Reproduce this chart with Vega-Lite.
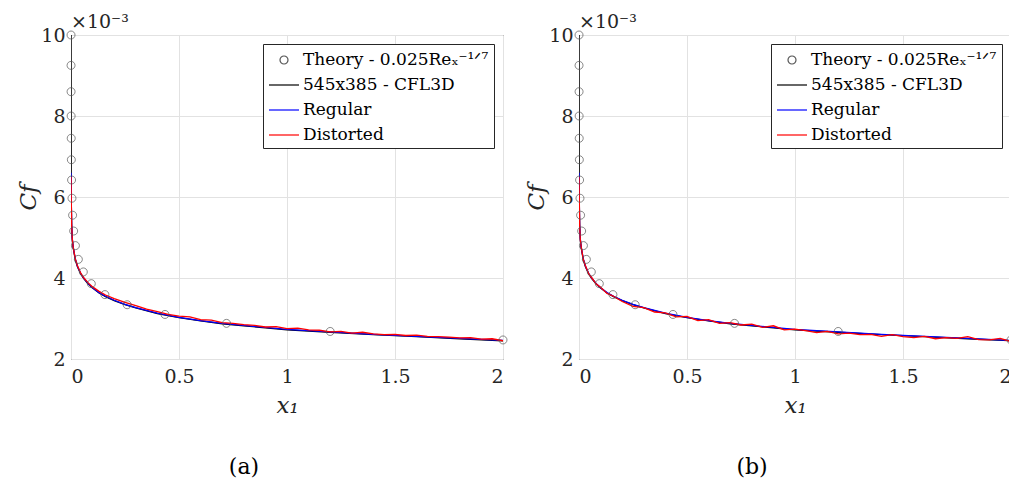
{
  "$schema": "https://vega.github.io/schema/vega-lite/v6.json",
  "background": "white",
  "padding": {"left": 17, "top": 12, "right": 0, "bottom": 0},
  "datasets": {
    "th": [
      {"x": 0.000127, "y": 10.0}, {"x": 0.00021, "y": 9.25}, {"x": 0.00035, "y": 8.6}, {"x": 0.00058, "y": 8.0},
      {"x": 0.00097, "y": 7.45}, {"x": 0.0016, "y": 6.92}, {"x": 0.0027, "y": 6.42}, {"x": 0.0045, "y": 5.97},
      {"x": 0.0074, "y": 5.55}, {"x": 0.0123, "y": 5.16}, {"x": 0.0205, "y": 4.8}, {"x": 0.034, "y": 4.46},
      {"x": 0.057, "y": 4.15}, {"x": 0.094, "y": 3.86}, {"x": 0.157, "y": 3.59}, {"x": 0.26, "y": 3.34},
      {"x": 0.435, "y": 3.1}, {"x": 0.72, "y": 2.88}, {"x": 1.2, "y": 2.68}, {"x": 2.0, "y": 2.47}
    ],
    "cv": [
      {"p": "ab", "s": "C", "x": 0, "y": 12}, {"p": "ab", "s": "C", "x": 0.001, "y": 5.98}, {"p": "ab", "s": "C", "x": 0.003, "y": 5.3},
      {"p": "ab", "s": "C", "x": 0.006, "y": 4.95}, {"p": "ab", "s": "C", "x": 0.01, "y": 4.75}, {"p": "ab", "s": "C", "x": 0.02, "y": 4.45},
      {"p": "ab", "s": "C", "x": 0.03, "y": 4.28}, {"p": "ab", "s": "C", "x": 0.045, "y": 4.1}, {"p": "ab", "s": "C", "x": 0.06, "y": 3.98},
      {"p": "ab", "s": "C", "x": 0.08, "y": 3.85}, {"p": "ab", "s": "C", "x": 0.1, "y": 3.75}, {"p": "ab", "s": "C", "x": 0.13, "y": 3.63},
      {"p": "ab", "s": "C", "x": 0.16, "y": 3.54}, {"p": "ab", "s": "C", "x": 0.2, "y": 3.44}, {"p": "ab", "s": "C", "x": 0.25, "y": 3.34},
      {"p": "ab", "s": "C", "x": 0.3, "y": 3.26}, {"p": "ab", "s": "C", "x": 0.4, "y": 3.12}, {"p": "ab", "s": "C", "x": 0.5, "y": 3.02},
      {"p": "ab", "s": "C", "x": 0.6, "y": 2.94}, {"p": "ab", "s": "C", "x": 0.7, "y": 2.87}, {"p": "ab", "s": "C", "x": 0.8, "y": 2.82},
      {"p": "ab", "s": "C", "x": 0.9, "y": 2.77}, {"p": "ab", "s": "C", "x": 1.0, "y": 2.72}, {"p": "ab", "s": "C", "x": 1.2, "y": 2.66},
      {"p": "ab", "s": "C", "x": 1.4, "y": 2.6}, {"p": "ab", "s": "C", "x": 1.6, "y": 2.55}, {"p": "ab", "s": "C", "x": 1.8, "y": 2.5},
      {"p": "ab", "s": "C", "x": 2.0, "y": 2.45},

      {"p": "ab", "s": "R", "x": 0, "y": 6.6}, {"p": "ab", "s": "R", "x": 0.001, "y": 6.0}, {"p": "ab", "s": "R", "x": 0.003, "y": 5.32},
      {"p": "ab", "s": "R", "x": 0.006, "y": 4.97}, {"p": "ab", "s": "R", "x": 0.01, "y": 4.77}, {"p": "ab", "s": "R", "x": 0.02, "y": 4.47},
      {"p": "ab", "s": "R", "x": 0.03, "y": 4.29}, {"p": "ab", "s": "R", "x": 0.045, "y": 4.11}, {"p": "ab", "s": "R", "x": 0.06, "y": 3.99},
      {"p": "ab", "s": "R", "x": 0.08, "y": 3.86}, {"p": "ab", "s": "R", "x": 0.1, "y": 3.76}, {"p": "ab", "s": "R", "x": 0.13, "y": 3.64},
      {"p": "ab", "s": "R", "x": 0.16, "y": 3.55}, {"p": "ab", "s": "R", "x": 0.2, "y": 3.45}, {"p": "ab", "s": "R", "x": 0.25, "y": 3.35},
      {"p": "ab", "s": "R", "x": 0.3, "y": 3.27}, {"p": "ab", "s": "R", "x": 0.4, "y": 3.13}, {"p": "ab", "s": "R", "x": 0.5, "y": 3.03},
      {"p": "ab", "s": "R", "x": 0.6, "y": 2.95}, {"p": "ab", "s": "R", "x": 0.7, "y": 2.88}, {"p": "ab", "s": "R", "x": 0.8, "y": 2.83},
      {"p": "ab", "s": "R", "x": 0.9, "y": 2.78}, {"p": "ab", "s": "R", "x": 1.0, "y": 2.73}, {"p": "ab", "s": "R", "x": 1.2, "y": 2.67},
      {"p": "ab", "s": "R", "x": 1.4, "y": 2.61}, {"p": "ab", "s": "R", "x": 1.6, "y": 2.56}, {"p": "ab", "s": "R", "x": 1.8, "y": 2.51},
      {"p": "ab", "s": "R", "x": 2.0, "y": 2.46},

      {"p": "a", "s": "D", "x": 0, "y": 6.5}, {"p": "a", "s": "D", "x": 0.001, "y": 6.0}, {"p": "a", "s": "D", "x": 0.003, "y": 5.3},
      {"p": "a", "s": "D", "x": 0.006, "y": 4.97}, {"p": "a", "s": "D", "x": 0.01, "y": 4.77}, {"p": "a", "s": "D", "x": 0.02, "y": 4.47},
      {"p": "a", "s": "D", "x": 0.03, "y": 4.3}, {"p": "a", "s": "D", "x": 0.045, "y": 4.12}, {"p": "a", "s": "D", "x": 0.06, "y": 4.0},
      {"p": "a", "s": "D", "x": 0.08, "y": 3.88}, {"p": "a", "s": "D", "x": 0.1, "y": 3.78}, {"p": "a", "s": "D", "x": 0.13, "y": 3.67},
      {"p": "a", "s": "D", "x": 0.16, "y": 3.58}, {"p": "a", "s": "D", "x": 0.2, "y": 3.49}, {"p": "a", "s": "D", "x": 0.25, "y": 3.4},
      {"p": "a", "s": "D", "x": 0.3, "y": 3.32}, {"p": "a", "s": "D", "x": 0.35, "y": 3.23}, {"p": "a", "s": "D", "x": 0.4, "y": 3.17},
      {"p": "a", "s": "D", "x": 0.45, "y": 3.1}, {"p": "a", "s": "D", "x": 0.5, "y": 3.06}, {"p": "a", "s": "D", "x": 0.55, "y": 3.04},
      {"p": "a", "s": "D", "x": 0.6, "y": 2.97}, {"p": "a", "s": "D", "x": 0.65, "y": 2.96}, {"p": "a", "s": "D", "x": 0.7, "y": 2.9},
      {"p": "a", "s": "D", "x": 0.75, "y": 2.88}, {"p": "a", "s": "D", "x": 0.8, "y": 2.85}, {"p": "a", "s": "D", "x": 0.85, "y": 2.83},
      {"p": "a", "s": "D", "x": 0.9, "y": 2.79}, {"p": "a", "s": "D", "x": 0.95, "y": 2.8}, {"p": "a", "s": "D", "x": 1.0, "y": 2.75},
      {"p": "a", "s": "D", "x": 1.05, "y": 2.76}, {"p": "a", "s": "D", "x": 1.1, "y": 2.72}, {"p": "a", "s": "D", "x": 1.15, "y": 2.71},
      {"p": "a", "s": "D", "x": 1.2, "y": 2.67}, {"p": "a", "s": "D", "x": 1.25, "y": 2.68}, {"p": "a", "s": "D", "x": 1.3, "y": 2.64},
      {"p": "a", "s": "D", "x": 1.35, "y": 2.66}, {"p": "a", "s": "D", "x": 1.4, "y": 2.62}, {"p": "a", "s": "D", "x": 1.45, "y": 2.6},
      {"p": "a", "s": "D", "x": 1.5, "y": 2.61}, {"p": "a", "s": "D", "x": 1.55, "y": 2.58}, {"p": "a", "s": "D", "x": 1.6, "y": 2.59},
      {"p": "a", "s": "D", "x": 1.65, "y": 2.56}, {"p": "a", "s": "D", "x": 1.7, "y": 2.55}, {"p": "a", "s": "D", "x": 1.75, "y": 2.54},
      {"p": "a", "s": "D", "x": 1.8, "y": 2.52}, {"p": "a", "s": "D", "x": 1.85, "y": 2.53}, {"p": "a", "s": "D", "x": 1.9, "y": 2.49},
      {"p": "a", "s": "D", "x": 1.95, "y": 2.5}, {"p": "a", "s": "D", "x": 2.0, "y": 2.45},

      {"p": "b", "s": "D", "x": 0, "y": 6.5}, {"p": "b", "s": "D", "x": 0.001, "y": 6.1}, {"p": "b", "s": "D", "x": 0.003, "y": 5.3},
      {"p": "b", "s": "D", "x": 0.006, "y": 4.95}, {"p": "b", "s": "D", "x": 0.01, "y": 4.78}, {"p": "b", "s": "D", "x": 0.02, "y": 4.45},
      {"p": "b", "s": "D", "x": 0.03, "y": 4.3}, {"p": "b", "s": "D", "x": 0.045, "y": 4.1}, {"p": "b", "s": "D", "x": 0.06, "y": 4.0},
      {"p": "b", "s": "D", "x": 0.08, "y": 3.85}, {"p": "b", "s": "D", "x": 0.1, "y": 3.77}, {"p": "b", "s": "D", "x": 0.13, "y": 3.62},
      {"p": "b", "s": "D", "x": 0.16, "y": 3.55}, {"p": "b", "s": "D", "x": 0.2, "y": 3.42}, {"p": "b", "s": "D", "x": 0.25, "y": 3.3},
      {"p": "b", "s": "D", "x": 0.3, "y": 3.27}, {"p": "b", "s": "D", "x": 0.35, "y": 3.16}, {"p": "b", "s": "D", "x": 0.4, "y": 3.14},
      {"p": "b", "s": "D", "x": 0.45, "y": 3.04}, {"p": "b", "s": "D", "x": 0.5, "y": 3.05}, {"p": "b", "s": "D", "x": 0.55, "y": 2.95},
      {"p": "b", "s": "D", "x": 0.6, "y": 2.97}, {"p": "b", "s": "D", "x": 0.65, "y": 2.88}, {"p": "b", "s": "D", "x": 0.7, "y": 2.9},
      {"p": "b", "s": "D", "x": 0.75, "y": 2.84}, {"p": "b", "s": "D", "x": 0.8, "y": 2.86}, {"p": "b", "s": "D", "x": 0.85, "y": 2.78},
      {"p": "b", "s": "D", "x": 0.9, "y": 2.82}, {"p": "b", "s": "D", "x": 0.95, "y": 2.72}, {"p": "b", "s": "D", "x": 1.0, "y": 2.74},
      {"p": "b", "s": "D", "x": 1.05, "y": 2.7}, {"p": "b", "s": "D", "x": 1.1, "y": 2.65}, {"p": "b", "s": "D", "x": 1.15, "y": 2.68},
      {"p": "b", "s": "D", "x": 1.2, "y": 2.62}, {"p": "b", "s": "D", "x": 1.25, "y": 2.64}, {"p": "b", "s": "D", "x": 1.3, "y": 2.6},
      {"p": "b", "s": "D", "x": 1.35, "y": 2.61}, {"p": "b", "s": "D", "x": 1.4, "y": 2.56}, {"p": "b", "s": "D", "x": 1.45, "y": 2.6},
      {"p": "b", "s": "D", "x": 1.5, "y": 2.55}, {"p": "b", "s": "D", "x": 1.55, "y": 2.53}, {"p": "b", "s": "D", "x": 1.6, "y": 2.56},
      {"p": "b", "s": "D", "x": 1.65, "y": 2.5}, {"p": "b", "s": "D", "x": 1.7, "y": 2.53}, {"p": "b", "s": "D", "x": 1.75, "y": 2.51},
      {"p": "b", "s": "D", "x": 1.8, "y": 2.55}, {"p": "b", "s": "D", "x": 1.85, "y": 2.48}, {"p": "b", "s": "D", "x": 1.9, "y": 2.47},
      {"p": "b", "s": "D", "x": 1.95, "y": 2.51}, {"p": "b", "s": "D", "x": 2.0, "y": 2.43}
    ]
  },
  "hconcat": [
    {
      "width": 432, "height": 324,
      "title": {"text": "(a)", "orient": "bottom", "anchor": "middle", "frame": "group", "dx": -43, "offset": 40, "fontSize": 22, "fontWeight": "normal", "font": "DejaVu Serif", "color": "#000000"},
      "layer": [
        {
          "data": {"name": "cv"},
          "transform": [{"filter": "indexof(datum.p, 'a') >= 0"}],
          "mark": {"type": "line", "clip": true, "strokeWidth": 1.3},
          "encoding": {
            "x": {"field": "x", "type": "quantitative", "scale": {"domain": [0, 2], "nice": false}, "axis": {"values": [0, 0.5, 1, 1.5, 2], "format": "~g", "title": "x₁", "labelPadding": 8, "titlePadding": 8, "labelFont": "DejaVu Serif", "labelFontSize": 19, "titleFont": "DejaVu Serif", "titleFontSize": 23, "titleFontStyle": "italic", "titleFontWeight": "normal"}},
            "y": {"field": "y", "type": "quantitative", "scale": {"domain": [2, 10], "nice": false}, "axis": {"values": [2, 4, 6, 8, 10], "format": "d", "title": "Cf", "labelPadding": 6, "titlePadding": 0, "labelFont": "DejaVu Serif", "labelFontSize": 19, "titleFont": "DejaVu Serif", "titleFontSize": 23, "titleFontStyle": "italic", "titleFontWeight": "normal"}},
            "color": {"field": "s", "type": "nominal", "scale": {"domain": ["T", "C", "R", "D"], "range": ["#555555", "#000000", "#0000ff", "#ff0000"]}, "legend": {"title": null, "labelExpr": "datum.label == 'T' ? 'Theory - 0.025Reₓ⁻¹ᐟ⁷' : datum.label == 'C' ? '545x385 - CFL3D' : datum.label == 'R' ? 'Regular' : 'Distorted'"}},
            "order": {"field": "s", "sort": "ascending"}
          }
        },
        {
          "data": {"name": "th"},
          "transform": [{"calculate": "'T'", "as": "s"}],
          "mark": {"type": "point", "filled": false, "size": 400, "strokeWidth": 0.7, "opacity": 1},
          "encoding": {
            "x": {"field": "x", "type": "quantitative"},
            "y": {"field": "y", "type": "quantitative"},
            "color": {"field": "s", "type": "nominal", "legend": {"title": null, "labelExpr": "datum.label == 'T' ? 'Theory - 0.025Reₓ⁻¹ᐟ⁷' : datum.label == 'C' ? '545x385 - CFL3D' : datum.label == 'R' ? 'Regular' : 'Distorted'"}},
            "shape": {"field": "s", "type": "nominal", "scale": {"domain": ["T", "C", "R", "D"], "range": ["M -0.4 0 A 0.4 0.4 0 1 0 0.4 0 A 0.4 0.4 0 1 0 -0.4 0 Z", "M -1.5 0 L 1.5 0", "M -1.5 0 L 1.5 0", "M -1.5 0 L 1.5 0"]}, "legend": {"title": null, "labelExpr": "datum.label == 'T' ? 'Theory - 0.025Reₓ⁻¹ᐟ⁷' : datum.label == 'C' ? '545x385 - CFL3D' : datum.label == 'R' ? 'Regular' : 'Distorted'"}}
          }
        },
        {
          "data": {"values": [{}]},
          "mark": {"type": "text", "align": "left", "baseline": "bottom", "dx": 0, "dy": -3, "fontSize": 19, "font": "DejaVu Serif", "color": "#262626"},
          "encoding": {"x": {"datum": 0}, "y": {"datum": 10}, "text": {"value": "×10⁻³"}}
        }
      ]
    },
    {
      "width": 432, "height": 324,
      "title": {"text": "(b)", "orient": "bottom", "anchor": "middle", "frame": "group", "dx": -43, "offset": 40, "fontSize": 22, "fontWeight": "normal", "font": "DejaVu Serif", "color": "#000000"},
      "layer": [
        {
          "data": {"name": "cv"},
          "transform": [{"filter": "indexof(datum.p, 'b') >= 0"}],
          "mark": {"type": "line", "clip": true, "strokeWidth": 1.3},
          "encoding": {
            "x": {"field": "x", "type": "quantitative", "scale": {"domain": [0, 2], "nice": false}, "axis": {"values": [0, 0.5, 1, 1.5, 2], "format": "~g", "title": "x₁", "labelPadding": 8, "titlePadding": 8, "labelFont": "DejaVu Serif", "labelFontSize": 19, "titleFont": "DejaVu Serif", "titleFontSize": 23, "titleFontStyle": "italic", "titleFontWeight": "normal"}},
            "y": {"field": "y", "type": "quantitative", "scale": {"domain": [2, 10], "nice": false}, "axis": {"values": [2, 4, 6, 8, 10], "format": "d", "title": "Cf", "labelPadding": 6, "titlePadding": 0, "labelFont": "DejaVu Serif", "labelFontSize": 19, "titleFont": "DejaVu Serif", "titleFontSize": 23, "titleFontStyle": "italic", "titleFontWeight": "normal"}},
            "color": {"field": "s", "type": "nominal", "scale": {"domain": ["T", "C", "R", "D"], "range": ["#555555", "#000000", "#0000ff", "#ff0000"]}, "legend": {"title": null, "labelExpr": "datum.label == 'T' ? 'Theory - 0.025Reₓ⁻¹ᐟ⁷' : datum.label == 'C' ? '545x385 - CFL3D' : datum.label == 'R' ? 'Regular' : 'Distorted'"}},
            "order": {"field": "s", "sort": "ascending"}
          }
        },
        {
          "data": {"name": "th"},
          "transform": [{"calculate": "'T'", "as": "s"}],
          "mark": {"type": "point", "filled": false, "size": 400, "strokeWidth": 0.7, "opacity": 1},
          "encoding": {
            "x": {"field": "x", "type": "quantitative"},
            "y": {"field": "y", "type": "quantitative"},
            "color": {"field": "s", "type": "nominal", "legend": {"title": null, "labelExpr": "datum.label == 'T' ? 'Theory - 0.025Reₓ⁻¹ᐟ⁷' : datum.label == 'C' ? '545x385 - CFL3D' : datum.label == 'R' ? 'Regular' : 'Distorted'"}},
            "shape": {"field": "s", "type": "nominal", "scale": {"domain": ["T", "C", "R", "D"], "range": ["M -0.4 0 A 0.4 0.4 0 1 0 0.4 0 A 0.4 0.4 0 1 0 -0.4 0 Z", "M -1.5 0 L 1.5 0", "M -1.5 0 L 1.5 0", "M -1.5 0 L 1.5 0"]}, "legend": {"title": null, "labelExpr": "datum.label == 'T' ? 'Theory - 0.025Reₓ⁻¹ᐟ⁷' : datum.label == 'C' ? '545x385 - CFL3D' : datum.label == 'R' ? 'Regular' : 'Distorted'"}}
          }
        },
        {
          "data": {"values": [{}]},
          "mark": {"type": "text", "align": "left", "baseline": "bottom", "dx": 0, "dy": -3, "fontSize": 19, "font": "DejaVu Serif", "color": "#262626"},
          "encoding": {"x": {"datum": 0}, "y": {"datum": 10}, "text": {"value": "×10⁻³"}}
        }
      ]
    }
  ],
  "spacing": 76,
  "bounds": "flush",
  "resolve": {
    "scale": {"color": "independent", "shape": "independent", "x": "independent", "y": "independent"},
    "legend": {"color": "independent", "shape": "independent"}
  },
  "config": {
    "font": "DejaVu Serif",
    "view": {"stroke": "#262626", "strokeWidth": 1},
    "axis": {
      "grid": true, "gridColor": "#e2e2e2", "domain": false, "ticks": false,
      "labelColor": "#262626", "titleColor": "#262626"
    },
    "legend": {
      "orient": "top-right", "offset": 9, "strokeColor": "#262626", "fillColor": "white", "padding": 5,
      "labelFont": "DejaVu Serif", "labelFontSize": 17, "labelColor": "#000000", "labelLimit": 400,
      "symbolSize": 400, "symbolStrokeWidth": 1.2, "rowPadding": 6, "labelOffset": 8, "symbolOffset": 5
    }
  }
}
